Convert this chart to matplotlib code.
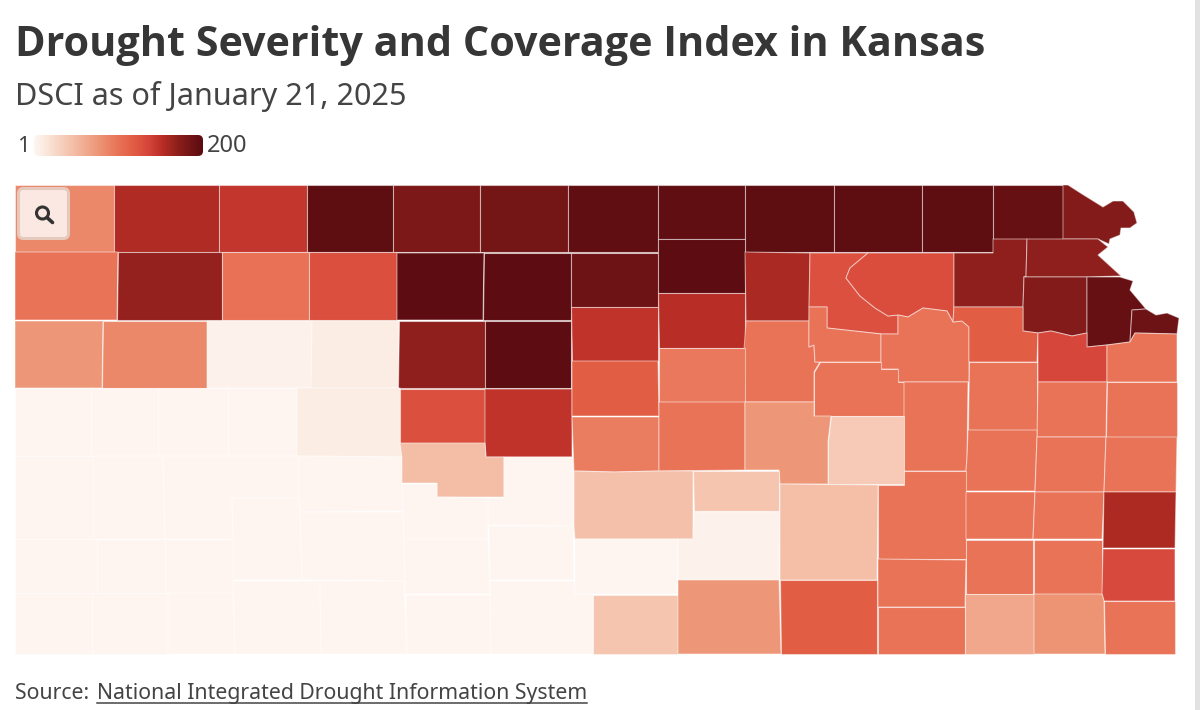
import matplotlib
matplotlib.use("Agg")
import numpy as np
import matplotlib.pyplot as plt
from matplotlib.collections import PolyCollection
from matplotlib.colors import LinearSegmentedColormap, Normalize
from matplotlib.patches import Circle, FancyBboxPatch, Rectangle

TITLE = "Drought Severity and Coverage Index in Kansas"
SUBTITLE = "DSCI as of January 21, 2025"
SOURCE_LABEL = "Source: "
SOURCE_LINK = "National Integrated Drought Information System"

DSCI_MIN = 1
DSCI_MAX = 200

# colour ramp
RAMP_STOPS = [0.0, 0.04, 0.22, 0.38, 0.50, 0.60, 0.68, 0.76, 0.86, 1.0]
RAMP_COLORS = ["#fef5f1", "#fcefe6", "#f4c1ab", "#ed9677", "#e97256", "#e05a42",
               "#d5443a", "#b82e26", "#8a1e1b", "#5a0b10"]

# dsci by county, estimated from the fill colours
DSCI = {
    "Cheyenne": 86, "Rawlins": 155, "Decatur": 146, "Norton": 197, "Phillips": 180,
    "Smith": 184, "Jewell": 196, "Republic": 196, "Washington": 197, "Marshall": 197,
    "Nemaha": 197, "Brown": 192, "Doniphan": 176,
    "Sherman": 100, "Thomas": 168, "Sheridan": 101, "Graham": 128, "Rooks": 198,
    "Osborne": 198, "Mitchell": 188, "Cloud": 198, "Clay": 158, "Riley": 127,
    "Pottawatomie": 130, "Jackson": 170, "Atchison": 170, "Jefferson": 176,
    "Leavenworth": 192, "Wyandotte": 188,
    "Wallace": 76, "Logan": 86, "Gove": 6, "Trego": 11, "Ellis": 170, "Russell": 198,
    "Lincoln": 148, "Ottawa": 152, "Dickinson": 100, "Geary": 100, "Wabaunsee": 100,
    "Shawnee": 118, "Douglas": 135, "Johnson": 100,
    "Greeley": 1, "Wichita": 1, "Scott": 1, "Lane": 1, "Ness": 11, "Rush": 128,
    "Barton": 148, "Ellsworth": 117, "Saline": 96, "Morris": 100, "Lyon": 100,
    "Osage": 100, "Franklin": 100, "Miami": 100,
    "Hamilton": 1, "Kearny": 1, "Finney": 1, "Hodgeman": 1, "Pawnee": 48,
    "Stafford": 1, "Rice": 94, "McPherson": 100, "Marion": 76, "Chase": 38,
    "Coffey": 100, "Anderson": 100, "Linn": 100,
    "Gray": 1, "Ford": 1, "Edwards": 1, "Pratt": 1, "Reno": 46, "Harvey": 42,
    "Sedgwick": 6, "Butler": 47, "Greenwood": 100, "Woodson": 100, "Allen": 100,
    "Bourbon": 157,
    "Stanton": 1, "Grant": 1, "Haskell": 1, "Kiowa": 1, "Kingman": 2, "Wilson": 100,
    "Neosho": 100, "Crawford": 133, "Elk": 100,
    "Morton": 1, "Stevens": 1, "Seward": 1, "Meade": 1, "Clark": 1, "Comanche": 1,
    "Barber": 1, "Harper": 42, "Sumner": 76, "Cowley": 117, "Chautauqua": 100,
    "Montgomery": 64, "Labette": 78, "Cherokee": 100,
}

OUTLINES = {
    "Cheyenne": [(15, 185), (114, 185), (114, 252), (15, 252)],
    "Rawlins": [(114, 185), (219, 185), (219, 252), (114, 252)],
    "Decatur": [(219, 185), (307, 185), (307, 252), (219, 252)],
    "Norton": [(307, 185), (393, 185), (393, 252), (307, 252)],
    "Phillips": [(393, 185), (480, 185), (480, 252), (393, 252)],
    "Smith": [(480, 185), (568, 185), (568, 252), (480, 252)],
    "Jewell": [(568, 185), (658, 185), (658, 252), (568, 252)],
    "Republic": [(658, 185), (745, 185), (745, 239), (658, 239)],
    "Washington": [(745, 185), (834, 185), (834, 252), (745, 252)],
    "Marshall": [(834, 185), (922, 185), (922, 252), (834, 252)],
    "Nemaha": [(922, 185), (993, 185), (993, 252), (922, 252)],
    "Brown": [(993, 185), (1063, 185), (1063, 239), (993, 239)],
    "Doniphan": [(1063, 185), (1068, 185), (1082, 194), (1103, 207), (1113, 201), (1123, 201),
                 (1134, 212), (1137, 223), (1130, 228), (1121, 228), (1120, 235), (1110, 239),
                 (1109, 244), (1098, 239), (1063, 239)],
    "Sherman": [(15, 252), (118, 252), (117, 320), (15, 320)],
    "Thomas": [(118, 252), (222, 252), (222, 320), (117, 320)],
    "Sheridan": [(222, 252), (309, 252), (309, 320), (222, 320)],
    "Graham": [(309, 252), (397, 252), (397, 320), (309, 320)],
    "Rooks": [(397, 253), (484, 253), (483, 320), (397, 320)],
    "Osborne": [(484, 253), (571, 253), (571, 320), (483, 320)],
    "Mitchell": [(571, 253), (658, 253), (658, 307), (571, 307)],
    "Cloud": [(658, 239), (745, 239), (745, 293), (658, 293)],
    "Clay": [(745, 252), (810, 253), (809, 321), (746, 321)],
    "Riley": [(810, 253), (868, 253), (850, 268), (846, 278), (860, 296), (875, 308), (888, 316),
              (898, 315), (898, 334), (882, 334), (827, 328), (827, 307), (809, 307)],
    "Pottawatomie": [(868, 253), (954, 253), (954, 307), (953, 322), (947, 311), (923, 308),
                     (908, 317), (898, 315), (888, 316), (875, 308), (860, 296), (846, 278),
                     (850, 268)],
    "Jackson": [(954, 253), (993, 253), (993, 239), (1027, 239), (1026, 277), (1024, 277),
                (1023, 307), (954, 307)],
    "Atchison": [(1027, 239), (1098, 239), (1108, 247), (1098, 255), (1121, 276), (1087, 277),
                 (1024, 277), (1026, 277)],
    "Jefferson": [(1024, 277), (1087, 277), (1087, 333), (1072, 336), (1051, 331), (1038, 333),
                  (1023, 331), (1023, 307)],
    "Leavenworth": [(1087, 277), (1120, 277), (1133, 281), (1130, 290), (1146, 309), (1132, 310),
                    (1130, 342), (1107, 345), (1087, 347)],
    "Wyandotte": [(1132, 310), (1146, 309), (1156, 315), (1167, 313), (1179, 318), (1177, 334),
                  (1135, 333), (1130, 342)],
    "Wallace": [(15, 321), (103, 321), (102, 388), (15, 388)],
    "Logan": [(103, 321), (207, 321), (207, 388), (102, 388)],
    "Gove": [(207, 321), (312, 321), (311, 388), (207, 388)],
    "Trego": [(312, 321), (399, 321), (398, 388), (311, 388)],
    "Ellis": [(399, 321), (485, 321), (485, 388), (398, 388)],
    "Russell": [(485, 321), (571, 321), (571, 388), (485, 388)],
    "Lincoln": [(571, 307), (658, 307), (658, 361), (572, 361)],
    "Ottawa": [(658, 293), (745, 293), (745, 348), (659, 348)],
    "Dickinson": [(746, 321), (809, 321), (809, 347), (814, 345), (815, 362), (820, 362), (814, 372),
                  (814, 402), (745, 402), (744, 350)],
    "Geary": [(809, 307), (827, 307), (827, 328), (881, 334), (881, 362), (815, 362), (814, 345),
              (809, 347)],
    "Wabaunsee": [(898, 315), (908, 317), (923, 308), (947, 311), (953, 322), (962, 321),
                  (969, 327), (969, 382), (898, 382), (898, 369), (881, 369), (881, 334),
                  (898, 334)],
    "Shawnee": [(954, 307), (1023, 307), (1023, 331), (1038, 333), (1037, 362), (969, 362),
                (969, 327), (962, 321), (953, 322)],
    "Douglas": [(1038, 333), (1051, 331), (1072, 336), (1087, 333), (1087, 347), (1107, 345),
                (1107, 382), (1038, 382)],
    "Johnson": [(1135, 333), (1177, 334), (1177, 382), (1107, 382), (1107, 345), (1130, 342)],
    "Greeley": [(15, 388), (91, 388), (91, 456), (15, 456)],
    "Wichita": [(91, 388), (158, 388), (158, 456), (91, 456)],
    "Scott": [(158, 388), (228, 388), (228, 456), (158, 456)],
    "Lane": [(228, 388), (297, 388), (297, 456), (228, 456)],
    "Ness": [(297, 388), (400, 388), (400, 443), (402, 457), (297, 456)],
    "Rush": [(400, 389), (485, 389), (485, 443), (400, 443)],
    "Barton": [(485, 389), (572, 389), (572, 457), (486, 457), (485, 443)],
    "Ellsworth": [(572, 361), (658, 361), (659, 416), (572, 416)],
    "Saline": [(659, 348), (745, 348), (745, 402), (659, 402)],
    "Morris": [(820, 362), (881, 362), (881, 369), (898, 369), (898, 382), (904, 382), (904, 416),
               (814, 416), (814, 372)],
    "Lyon": [(904, 382), (968, 382), (967, 458), (966, 471), (904, 471)],
    "Osage": [(969, 362), (1037, 362), (1037, 430), (968, 430)],
    "Franklin": [(1038, 382), (1107, 382), (1106, 437), (1037, 437)],
    "Miami": [(1107, 382), (1177, 382), (1177, 437), (1106, 437)],
    "Hamilton": [(15, 456), (93, 456), (93, 539), (15, 539)],
    "Kearny": [(93, 456), (163, 456), (165, 539), (93, 539)],
    "Finney": [(163, 456), (299, 456), (299, 498), (232, 498), (233, 539), (165, 539)],
    "Hodgeman": [(299, 456), (402, 457), (403, 511), (300, 512), (299, 498)],
    "Pawnee": [(400, 443), (485, 443), (486, 457), (504, 457), (504, 497), (437, 497), (437, 483),
               (402, 483), (402, 457)],
    "Stafford": [(504, 457), (573, 457), (574, 471), (574, 526), (488, 525), (488, 498), (504, 498)],
    "Rice": [(572, 417), (659, 417), (659, 471), (614, 472), (574, 471)],
    "McPherson": [(659, 402), (745, 402), (745, 470), (659, 471)],
    "Marion": [(745, 402), (814, 402), (814, 416), (831, 416), (828, 442), (828, 484), (780, 484),
               (779, 470), (745, 470)],
    "Chase": [(831, 416), (904, 416), (904, 484), (828, 484), (828, 442)],
    "Coffey": [(968, 430), (1037, 430), (1037, 437), (1035, 491), (966, 491), (966, 471), (967, 458)],
    "Anderson": [(1037, 437), (1106, 437), (1104, 492), (1035, 492)],
    "Linn": [(1106, 437), (1177, 437), (1176, 492), (1104, 492)],
    "Gray": [(232, 498), (299, 498), (300, 512), (302, 580), (233, 580), (233, 539)],
    "Ford": [(300, 512), (403, 512), (405, 581), (302, 580)],
    "Edwards": [(402, 484), (437, 484), (437, 497), (488, 498), (488, 539), (404, 539), (403, 512)],
    "Pratt": [(489, 526), (573, 526), (574, 580), (490, 580)],
    "Reno": [(574, 471), (614, 472), (659, 471), (693, 471), (693, 539), (575, 539), (574, 527)],
    "Harvey": [(693, 471), (779, 471), (779, 511), (694, 511)],
    "Sedgwick": [(694, 512), (780, 512), (779, 580), (678, 580), (678, 539), (693, 539)],
    "Butler": [(780, 484), (878, 485), (877, 580), (780, 580)],
    "Greenwood": [(878, 485), (904, 485), (904, 471), (966, 471), (966, 559), (878, 559)],
    "Woodson": [(966, 492), (1035, 492), (1033, 539), (966, 539)],
    "Allen": [(1035, 492), (1104, 492), (1102, 539), (1033, 539)],
    "Bourbon": [(1104, 492), (1176, 492), (1175, 548), (1103, 548)],
    "Stanton": [(15, 539), (97, 539), (97, 593), (15, 593)],
    "Grant": [(97, 539), (165, 539), (165, 593), (97, 593)],
    "Haskell": [(165, 539), (233, 539), (233, 593), (165, 593)],
    "Kiowa": [(404, 539), (488, 539), (490, 594), (405, 594)],
    "Kingman": [(575, 539), (678, 539), (677, 594), (575, 594)],
    "Wilson": [(966, 540), (1033, 540), (1033, 594), (966, 594)],
    "Neosho": [(1034, 540), (1102, 540), (1102, 594), (1034, 594)],
    "Crawford": [(1103, 549), (1175, 549), (1175, 601), (1104, 601), (1102, 594)],
    "Elk": [(878, 559), (966, 560), (965, 607), (878, 607)],
    "Morton": [(15, 593), (92, 593), (92, 654), (15, 654)],
    "Stevens": [(92, 593), (168, 593), (168, 654), (92, 654)],
    "Seward": [(168, 593), (233, 593), (235, 654), (168, 654)],
    "Meade": [(233, 581), (320, 581), (321, 654), (235, 654)],
    "Clark": [(320, 581), (404, 581), (407, 654), (321, 654)],
    "Comanche": [(406, 595), (490, 595), (491, 654), (407, 654)],
    "Barber": [(490, 581), (574, 581), (575, 594), (593, 594), (593, 654), (491, 654)],
    "Harper": [(593, 595), (678, 595), (678, 654), (593, 654)],
    "Sumner": [(678, 580), (779, 580), (781, 654), (678, 654)],
    "Cowley": [(780, 580), (877, 580), (877, 654), (781, 654)],
    "Chautauqua": [(878, 607), (965, 607), (965, 654), (878, 654)],
    "Montgomery": [(965, 594), (1034, 594), (1034, 654), (965, 654)],
    "Labette": [(1034, 594), (1102, 594), (1104, 601), (1105, 654), (1034, 654)],
    "Cherokee": [(1104, 601), (1175, 601), (1175, 654), (1105, 654)],
}

TEXT_COLOR = "#363636"

cmap = LinearSegmentedColormap.from_list("dsci", list(zip(RAMP_STOPS, RAMP_COLORS)))
norm = Normalize(DSCI_MIN, DSCI_MAX)

fig = plt.figure(figsize=(12, 7.1), dpi=100)
ax = fig.add_axes([0, 0, 1, 1])

# choropleth
names = list(OUTLINES)
counties = PolyCollection(
    [OUTLINES[n] for n in names],
    array=np.array([DSCI[n] for n in names], dtype=float),
    cmap=cmap,
    norm=norm,
    edgecolors=(1, 1, 1, 0.45),
    linewidths=0.8,
)
ax.add_collection(counties)

# header
ax.text(15, 56, TITLE, fontsize=29.8, fontweight="bold", family="Open Sans", color=TEXT_COLOR)
ax.text(15, 105, SUBTITLE, fontsize=22, family="Noto Sans", color="#444444")

# legend
ax.text(30, 146, str(DSCI_MIN), fontsize=16, family="Noto Sans", color="#444444", ha="right", va="center")
ax.text(207, 146, str(DSCI_MAX), fontsize=17, family="Noto Sans", color="#444444", ha="left", va="center")
gradient = ax.imshow(
    np.linspace(0, 1, 256).reshape(1, -1),
    cmap=cmap,
    extent=(34, 203, 156, 135),
    aspect="auto",
    zorder=2,
)
clip = FancyBboxPatch((37, 138), 163, 15, boxstyle="round,pad=3,rounding_size=5",
                      facecolor="none", edgecolor="none")
ax.add_patch(clip)
gradient.set_clip_path(clip)

# zoom button
ax.add_patch(FancyBboxPatch((22.5, 192.5), 42, 42, boxstyle="round,pad=4,rounding_size=5",
                            facecolor="#fbe8e2", edgecolor="#e6c9bd", linewidth=2.2, zorder=3))
ax.add_patch(Circle((42.5, 213), 6, facecolor="none", edgecolor="#333333", linewidth=2.2, zorder=4))
ax.plot([47, 52.5], [217.5, 222.5], color="#333333", linewidth=2.6, solid_capstyle="round", zorder=4)

# source line, underline follows the link text
label = ax.text(15, 699, SOURCE_LABEL, fontsize=15.3, family="Noto Sans", color="#444444")
link = ax.text(97, 699, SOURCE_LINK, fontsize=15.3, family="Noto Sans", color="#444444")
ax.set_xlim(0, 1200)
ax.set_ylim(710, 0)
ax.axis("off")
fig.canvas.draw()
box = link.get_window_extent()
ax.plot([97, 97 + box.width], [702.5, 702.5], color="#444444", linewidth=1.1)

# scrollbar edge of the page
ax.add_patch(Rectangle((1195, 0), 5, 710, facecolor="#e2e2e2", edgecolor="none"))

fig.savefig("out.png", dpi=100)
